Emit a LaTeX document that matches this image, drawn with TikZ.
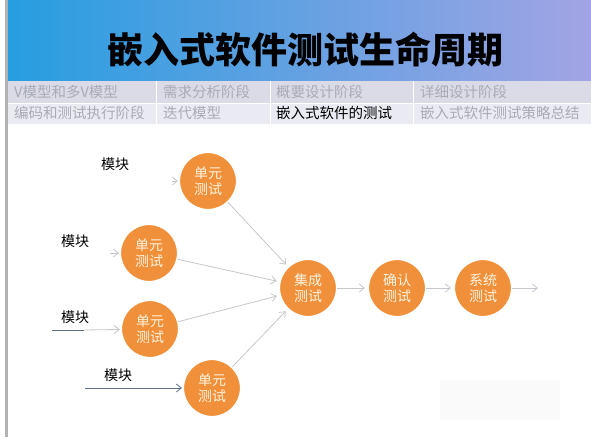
\documentclass[tikz,border=0pt]{standalone}
\usepackage{fontspec}
\setmainfont{Noto Sans CJK SC}
\usetikzlibrary{arrows.meta}
\definecolor{bannerl}{RGB}{38,158,224}
\definecolor{bannerr}{RGB}{162,164,228}
\definecolor{rowa}{RGB}{218,219,230}
\definecolor{rowb}{RGB}{234,235,242}
\definecolor{menutxt}{RGB}{168,170,182}
\definecolor{ballfill}{RGB}{240,144,58}
\definecolor{balltxt}{RGB}{255,244,224}
\definecolor{linkgray}{RGB}{198,198,204}
\definecolor{feed}{RGB}{96,114,138}
\begin{document}
\begin{tikzpicture}[x=1pt,y=-1pt,
  ball/.style={circle,fill=ballfill,draw=white,line width=1.2pt,minimum size=57pt,inner sep=0pt,align=center,text=balltxt,font=\fontsize{14}{15.5}\selectfont},
  modlabel/.style={font=\fontsize{14}{16}\selectfont},
  menu/.style={anchor=west,inner sep=0pt,text=menutxt,font=\fontsize{14.5}{16}\selectfont},
  link/.style={draw=linkgray,line width=0.8pt,-{Straight Barb[length=5pt,width=8pt]},shorten >=3pt}]
\useasboundingbox (0,0) rectangle (591,437);
% banner and menu
\shade[left color=bannerl,right color=bannerr] (8,0) rectangle (591,81);
\fill[rowa] (8,81) rectangle (591,103);
\fill[rowb] (8,103) rectangle (591,124);
\draw[white,line width=0.8pt] (8,103) -- (591,103);
\foreach \x in {156,270,413}
  \draw[white,line width=0.8pt] (\x,81) -- (\x,124);
\fill[gray!60] (5,0) rectangle (8,437);
\fill[gray!4] (440,380) rectangle (560,420);
\node[font=\fontsize{36}{40}\selectfont\bfseries] (title) at (305,50) {嵌入式软件测试生命周期};
\node[menu] (m1) at (14,92) {V模型和多V模型};
\node[menu] (m2) at (163,92) {需求分析阶段};
\node[menu] (m3) at (276,92) {概要设计阶段};
\node[menu] (m4) at (420,92) {详细设计阶段};
\node[menu] (m5) at (14,113) {编码和测试执行阶段};
\node[menu] (m6) at (163,113) {迭代模型};
\node[menu,text=black] (m7) at (276,113) {嵌入式软件的测试};
\node[menu] (m8) at (420,113) {嵌入式软件测试策略总结};
% test stages
\node[ball] (u1) at (208,181) {单元\\测试};
\node[ball] (u2) at (149,253) {单元\\测试};
\node[ball] (u3) at (150,329) {单元\\测试};
\node[ball] (u4) at (212,388) {单元\\测试};
\node[ball] (integ) at (308,288) {集成\\测试};
\node[ball] (confirm) at (397,288) {确认\\测试};
\node[ball] (system) at (483,288) {系统\\测试};
\node[modlabel] (l1) at (115,164) {模块};
\node[modlabel] (l2) at (75,241) {模块};
\node[modlabel] (l3) at (75,317) {模块};
\node[modlabel] (l4) at (118,375) {模块};
\coordinate (in1) at (172,181);
\coordinate (in2) at (110,253);
\coordinate (in3) at (52,330);
\coordinate (in3b) at (84,330);
\coordinate (in4) at (85,388);
\coordinate (out) at (538,288);
% connectors
\draw[link,shorten >=1pt] (in1) -- (u1);
\draw[link,shorten >=1pt] (in2) -- (u2);
\draw[feed,line width=0.8pt] (in3) -- (in3b);
\draw[link,shorten >=1pt] (in3b) -- (u3);
\draw[link,draw=feed,shorten >=1pt] (in4) -- (u4);
\draw[link] (u1) -- (integ);
\draw[link] (u2) -- (integ);
\draw[link] (u3) -- (integ);
\draw[link] (u4) -- (integ);
\draw[link] (integ) -- (confirm);
\draw[link] (confirm) -- (system);
\draw[link,shorten >=0pt] (system) -- (out);
\end{tikzpicture}
\end{document}
